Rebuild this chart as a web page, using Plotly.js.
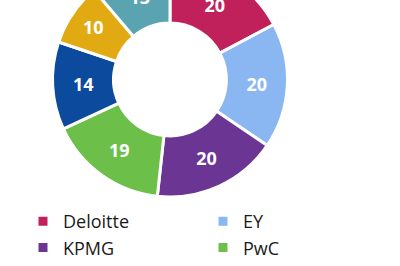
<!DOCTYPE html>
<html>
<head>
<meta charset="utf-8">
<script src="https://cdn.plot.ly/plotly-3.0.1.min.js"></script>
<style>
html,body{margin:0;padding:0;overflow:hidden;width:400px;height:266px;background:#fff;}
#wrap{position:relative;width:400px;height:266px;overflow:hidden;}
#chart{position:absolute;left:0;top:-60px;width:400px;height:400px;}
</style>
</head>
<body>
<div id="wrap"><div id="chart"></div></div>
<script>
const labels = ["Deloitte", "EY", "KPMG", "PwC", "Grant Thornton", "BDO", "Other"];
const values = [20, 20, 20, 19, 14, 10, 13];
const colors = ["#C0215A", "#8AB6F2", "#6A3593", "#6CC04A", "#0B4A9C", "#E2AA12", "#5AA4B1"];

const trace = {
  type: "pie",
  labels: labels,
  values: values,
  sort: false,
  direction: "clockwise",
  rotation: 0,
  hole: 0.48,
  textinfo: "value",
  textposition: "inside",
  insidetextorientation: "horizontal",
  textfont: {color: "#ffffff", size: 18, family: "Open Sans, sans-serif", weight: 700},
  marker: {colors: colors, line: {color: "#ffffff", width: 3}},
  domain: {x: [0.13125, 0.71875], y: [0.3575, 0.945]},
  hoverinfo: "label+value"
};

const layout = {
  width: 400, height: 400,
  margin: {l: 0, r: 0, t: 0, b: 0},
  paper_bgcolor: "#ffffff",
  showlegend: true,
  legend: {
    orientation: "h",
    x: 0.0575, xanchor: "left",
    y: 0.3425, yanchor: "top",
    entrywidth: 135, entrywidthmode: "pixels",
    font: {family: "Open Sans, sans-serif", size: 18, color: "#1a1a1a"},
    tracegroupgap: 0
  }
};

Plotly.newPlot("chart", [trace], layout, {displayModeBar: false, staticPlot: true});
</script>
</body>
</html>
